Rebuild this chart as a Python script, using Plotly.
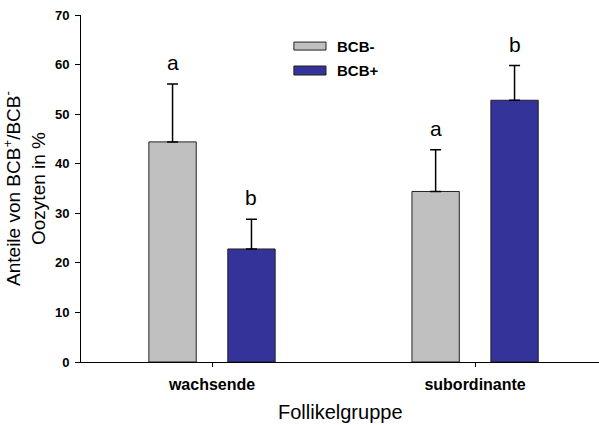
import plotly.graph_objects as go

categories = ["wachsende", "subordinante"]
bcb_minus = [44.4, 34.4]
bcb_minus_err = [11.7, 8.4]
bcb_plus = [22.8, 52.8]
bcb_plus_err = [6.0, 7.0]
letters_minus = ["a", "a"]
letters_plus = ["b", "b"]
y_ticks = [0, 10, 20, 30, 40, 50, 60, 70]

FONT = "Liberation Sans, Arial, sans-serif"

fig = go.Figure()
fig.add_trace(go.Bar(
    name="BCB-", x=categories, y=bcb_minus,
    marker=dict(color="#c0c0c0", line=dict(color="#222222", width=1)),
    error_y=dict(type="data", array=bcb_minus_err, arrayminus=[0, 0], symmetric=False,
                 color="black", thickness=1.5, width=5.5),
))
fig.add_trace(go.Bar(
    name="BCB+", x=categories, y=bcb_plus,
    marker=dict(color="#333399", line=dict(color="#222222", width=1)),
    error_y=dict(type="data", array=bcb_plus_err, arrayminus=[0, 0], symmetric=False,
                 color="black", thickness=1.5, width=5.5),
))

annotations = []
for i in range(len(categories)):
    for off, vals, errs, labs in [(-0.15, bcb_minus, bcb_minus_err, letters_minus),
                                  (0.15, bcb_plus, bcb_plus_err, letters_plus)]:
        annotations.append(dict(
            x=i + off, y=vals[i] + errs[i], xref="x", yref="y",
            text=labs[i], showarrow=False, yanchor="bottom", yshift=8,
            font=dict(size=21, color="black", family=FONT),
        ))

# x axis title
annotations.append(dict(
    x=0.5, y=0, xref="paper", yref="paper", yshift=-50,
    text="Follikelgruppe", showarrow=False, xanchor="center", yanchor="middle",
    font=dict(size=20, color="black", family=FONT),
))

# custom legend
legend_items = [("BCB-", "#c0c0c0", 0.922, 0.899), ("BCB+", "#333399", 0.853, 0.827)]
shapes = []
for name, col, y1, y0 in legend_items:
    shapes.append(dict(type="rect", xref="paper", yref="paper",
                       x0=0.411, x1=0.473, y0=y0, y1=y1,
                       fillcolor=col, line=dict(color="#222222", width=1)))
    annotations.append(dict(x=0.49, y=(y0 + y1) / 2, xref="paper", yref="paper",
                            text=name, showarrow=False, xanchor="left", yanchor="middle",
                            font=dict(size=15, color="black", family=FONT, weight="bold")))

fig.update_layout(
    width=599, height=425,
    margin=dict(l=81, r=0, t=15, b=63),
    paper_bgcolor="white", plot_bgcolor="white",
    barmode="group", bargap=0.4, bargroupgap=0.4,
    showlegend=False,
    annotations=annotations, shapes=shapes,
    font=dict(family=FONT, color="black"),
)
fig.update_xaxes(
    range=[-0.498, 1.471], showline=True, linecolor="black", linewidth=1,
    ticks="outside", ticklen=4, tickcolor="black", showgrid=False, zeroline=False,
    tickfont=dict(size=16, color="black", family=FONT, weight="bold"),
    ticklabelstandoff=4,
)
fig.update_yaxes(
    range=[0, 70], tickvals=y_ticks, showline=True, linecolor="black", linewidth=1,
    ticks="outside", ticklen=5, tickcolor="black", showgrid=False, zeroline=False,
    tickfont=dict(size=13, color="black", family=FONT, weight="bold"),
    ticklabelstandoff=3,
    title=dict(text="Anteile von BCB<sup>+</sup>/BCB<sup>-</sup><br>Oozyten in %",
               font=dict(size=19, color="black", family=FONT), standoff=6),
)

fig.write_html("out.html", config={"displayModeBar": False},
               post_script="document.body.style.margin='0';document.body.style.overflow='hidden';")
